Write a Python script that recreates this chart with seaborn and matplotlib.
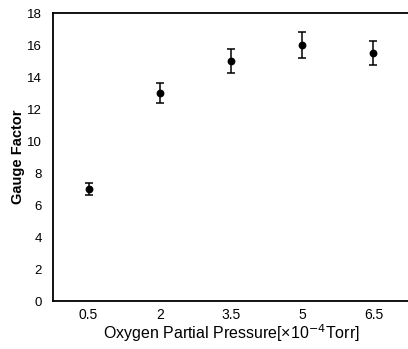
import matplotlib
matplotlib.use("Agg")
import matplotlib.pyplot as plt
import seaborn as sns
import pandas as pd
import numpy as np

categories = ["0.5", "2", "3.5", "5", "6.5"]
gauge_factor = [7.0, 13.0, 15.0, 16.0, 15.5]
errors = [0.35, 0.65, 0.72, 0.8, 0.77]
y_ticks = [0, 2, 4, 6, 8, 10, 12, 14, 16, 18]

df = pd.DataFrame({"pressure": categories, "gf": gauge_factor, "err": errors})

sns.set_theme(style="white")
plt.rcParams["font.family"] = ["Liberation Sans", "DejaVu Sans"]
plt.rcParams["text.color"] = "black"
plt.rcParams["axes.labelcolor"] = "black"
plt.rcParams["xtick.color"] = "black"
plt.rcParams["ytick.color"] = "black"

fig = plt.figure(figsize=(4.08, 3.49), dpi=100)
ax = fig.add_axes([53/408, 48/349, 356/408, 288/349])

sns.pointplot(data=df, x="pressure", y="gf", order=categories, color="black",
              linestyle="none", errorbar=None, markers="o", markersize=3.6, ax=ax)
ax.errorbar(np.arange(len(categories)), df["gf"], yerr=df["err"], fmt="none",
            ecolor="black", elinewidth=1.1, capsize=2.9, capthick=1.1)

ax.set_xlim(-0.5, len(categories) - 0.5)
ax.set_ylim(0, 18)
ax.set_yticks(y_ticks)
ax.set_yticklabels([str(t) for t in y_ticks], fontsize=9.5)
ax.set_xticks(range(len(categories)))
ax.set_xticklabels(categories, fontsize=10)
ax.tick_params(axis="y", length=0, pad=8)
ax.tick_params(axis="x", length=0, pad=5)
ax.set_ylabel("Gauge Factor", fontsize=10.5, fontweight="bold", labelpad=1.5)
ax.set_xlabel("Oxygen Partial Pressure[×10$^{-4}$Torr]", fontsize=11.5, labelpad=0)

for s in ["left", "bottom", "top"]:
    ax.spines[s].set_color("black")
    ax.spines[s].set_linewidth(1.3)
ax.spines["right"].set_visible(False)

fig.savefig("out.png", dpi=100)
